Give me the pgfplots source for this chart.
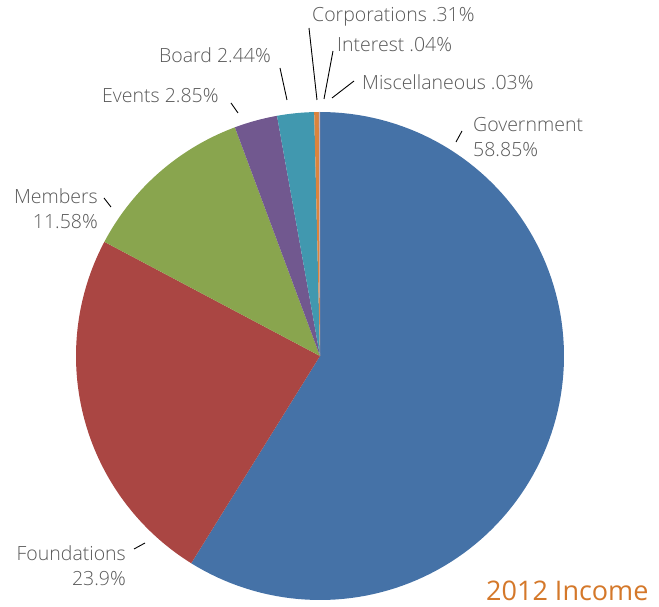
\documentclass[border=0pt]{standalone}
\usepackage{pgfplots}
\pgfplotsset{compat=1.18}
\usepackage{fontspec}
\setmainfont{Open Sans}[UprightFont={* Light}]
\newfontfamily\titlefont{Open Sans}
\definecolor{cGov}{HTML}{4572A7}
\definecolor{cFou}{HTML}{AA4643}
\definecolor{cMem}{HTML}{89A54E}
\definecolor{cEve}{HTML}{71588F}
\definecolor{cBoa}{HTML}{4198AF}
\definecolor{cCor}{HTML}{DB843D}
\definecolor{cInt}{HTML}{93A9CF}
\definecolor{cMis}{HTML}{D19392}
\definecolor{txt}{HTML}{595959}
\definecolor{ttl}{HTML}{D4782A}
% slice: cumulative start (%), value (%), colour
\newcommand\slice[3]{\addplot[fill=#3, draw=none, domain={90-3.6*(#1)-3.6*(#2)}:{90-3.6*(#1)}, samples=120, variable=\t] ({320+244*cos(\t)},{251+244*sin(\t)}) -- (axis cs:320,251) -- cycle;}
\begin{document}
\begin{tikzpicture}
\begin{axis}[
  width=659bp, height=607bp, scale only axis,
  xmin=0, xmax=659, ymin=0, ymax=607,
  hide axis, clip=false,
]
\path (axis cs:0,0) rectangle (axis cs:659,607);
\slice{0}{58.85}{cGov}
\slice{58.85}{23.9}{cFou}
\slice{82.75}{11.58}{cMem}
\slice{94.33}{2.85}{cEve}
\slice{97.18}{2.44}{cBoa}
\slice{99.62}{0.31}{cCor}
\slice{99.93}{0.04}{cInt}
\slice{99.97}{0.03}{cMis}
\begin{scope}[every node/.style={text=txt, inner sep=0pt, font=\fontsize{19.5bp}{25bp}\selectfont}]
\node[anchor=west] at (axis cs:312,590) {Corporations .31\%};
\node[anchor=west] at (axis cs:337,562) {Interest .04\%};
\node[anchor=west] at (axis cs:362,525) {Miscellaneous .03\%};
\node[anchor=west] at (axis cs:159,552) {Board 2.44\%};
\node[anchor=west] at (axis cs:102,511) {Events 2.85\%};
\node[anchor=east, align=right] at (axis cs:98,398) {Members\\11.58\%};
\node[anchor=east, align=right] at (axis cs:126,41) {Foundations\\23.9\%};
\node[anchor=west, align=left] at (axis cs:473,470) {Government\\58.85\%};
\end{scope}
\node[anchor=west, inner sep=0pt, text=ttl, font=\titlefont\fontsize{27bp}{30bp}\selectfont] at (axis cs:486,16) {2012 Income};
\begin{scope}[line width=0.9bp, black]
\draw (axis cs:309,579) -- (axis cs:317,507);
\draw (axis cs:333,556) -- (axis cs:324,508);
\draw (axis cs:354,526) -- (axis cs:332,509);
\draw (axis cs:280,539) -- (axis cs:287,507);
\draw (axis cs:231,504) -- (axis cs:238,494);
\draw (axis cs:104,409) -- (axis cs:111,400);
\draw (axis cs:134,58) -- (axis cs:145,64);
\draw (axis cs:456,465) -- (axis cs:462,476);
\end{scope}
\end{axis}
\end{tikzpicture}
\end{document}
